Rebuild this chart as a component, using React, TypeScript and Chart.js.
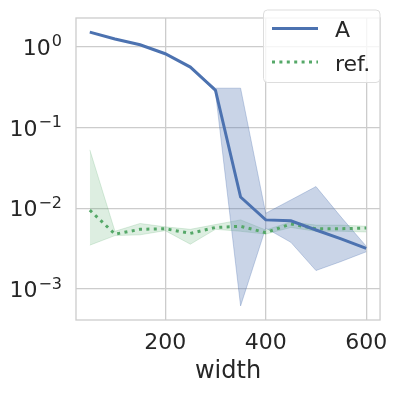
import React, { useEffect, useRef } from "react";
import { Chart, registerables } from "chart.js";

Chart.register(...registerables);

const xValues = [50, 100, 150, 200, 250, 300, 350, 400, 450, 500, 550, 600];
const aMean = [1.52, 1.25, 1.06, 0.82, 0.56, 0.29, 0.0138, 0.0072, 0.007, 0.0054, 0.0042, 0.0032];
const aUpper = [1.52, 1.25, 1.06, 0.82, 0.56, 0.307, 0.307, 0.0087, 0.0127, 0.0186, 0.0078, 0.0034];
const aLower = [1.52, 1.25, 1.06, 0.82, 0.56, 0.275, 0.00062, 0.0057, 0.0038, 0.0017, 0.0022, 0.0029];
const refMean = [0.0095, 0.0048, 0.0055, 0.0056, 0.0049, 0.0058, 0.006, 0.005, 0.0064, 0.0056, 0.0056, 0.0057];
const refUpper = [0.053, 0.0052, 0.0065, 0.0059, 0.0055, 0.0063, 0.0072, 0.0054, 0.0068, 0.0062, 0.0062, 0.006];
const refLower = [0.0035, 0.0046, 0.0047, 0.0053, 0.0036, 0.0055, 0.0052, 0.0048, 0.0058, 0.0052, 0.0052, 0.0051];
const xTicks = [200, 400, 600];
const yTicks = [0.001, 0.01, 0.1, 1];
const yTickExponents = ["\u22123", "\u22122", "\u22121", "0"];
const seriesLabels = ["A", "ref."];
const xTitle = "width";

const BLUE = "#4c72b0";
const GREEN = "#55a868";
const FONT = "'DejaVu Sans', sans-serif";
const TEXT = "#262626";
const GRID = "#cccccc";

const pts = (ys: number[]) => xValues.map((x, i) => ({ x, y: ys[i] }));

const framePlugin = {
  id: "frame",
  afterDatasetsDraw(chart: any) {
    const { ctx, chartArea: a } = chart;
    ctx.save();
    ctx.strokeStyle = GRID;
    ctx.lineWidth = 1.3;
    ctx.strokeRect(a.left, a.top, a.right - a.left, a.bottom - a.top);
    ctx.restore();
  },
  afterDraw(chart: any) {
    const { ctx } = chart;
    ctx.save();
    // y tick labels: 10 with superscript exponent
    const ys = chart.scales.y;
    const right = 62;
    yTicks.forEach((v, i) => {
      const py = ys.getPixelForValue(v);
      ctx.fillStyle = TEXT;
      ctx.textAlign = "right";
      ctx.textBaseline = "alphabetic";
      ctx.font = `16px ${FONT}`;
      const exp = yTickExponents[i];
      const ew = ctx.measureText(exp).width;
      ctx.fillText(exp, right, py - 0.3);
      ctx.font = `22px ${FONT}`;
      ctx.fillText("10", right - ew - 1, py + 8);
    });
    // legend box
    const bx = 263.5, by = 10, bw = 116.5, bh = 72.5, r = 4;
    ctx.beginPath();
    ctx.moveTo(bx + r, by);
    ctx.lineTo(bx + bw - r, by);
    ctx.quadraticCurveTo(bx + bw, by, bx + bw, by + r);
    ctx.lineTo(bx + bw, by + bh - r);
    ctx.quadraticCurveTo(bx + bw, by + bh, bx + bw - r, by + bh);
    ctx.lineTo(bx + r, by + bh);
    ctx.quadraticCurveTo(bx, by + bh, bx, by + bh - r);
    ctx.lineTo(bx, by + r);
    ctx.quadraticCurveTo(bx, by, bx + r, by);
    ctx.closePath();
    ctx.fillStyle = "rgba(255,255,255,0.8)";
    ctx.fill();
    ctx.strokeStyle = "#dddddd";
    ctx.lineWidth = 1;
    ctx.stroke();
    // entries
    const entries = [
      { label: seriesLabels[0], color: BLUE, dash: [] as number[], y: 28.5, base: 36.5 },
      { label: seriesLabels[1], color: GREEN, dash: [3, 4.4], y: 62, base: 70.5 },
    ];
    entries.forEach((e) => {
      ctx.beginPath();
      ctx.setLineDash(e.dash);
      ctx.strokeStyle = e.color;
      ctx.lineWidth = 3;
      ctx.moveTo(272, e.y);
      ctx.lineTo(318, e.y);
      ctx.stroke();
      ctx.setLineDash([]);
      ctx.fillStyle = TEXT;
      ctx.font = `22px ${FONT}`;
      ctx.textBaseline = "alphabetic";
      ctx.textAlign = "left";
      ctx.fillText(e.label, 335, e.base);
    });
    ctx.restore();
  },
};

export default function App() {
  const ref = useRef<HTMLCanvasElement | null>(null);
  useEffect(() => {
    if (!ref.current) return;
    const band = (data: number[], color: string, fill: any, order: number) => ({
      label: "",
      data: pts(data),
      borderColor: color,
      backgroundColor: color,
      borderWidth: 1,
      pointRadius: 0,
      fill,
      order,
      tension: 0,
    });
    const chart = new Chart(ref.current, {
      type: "line",
      data: {
        datasets: [
          {
            label: seriesLabels[0],
            data: pts(aMean),
            borderColor: BLUE,
            borderWidth: 3,
            pointRadius: 0,
            fill: false,
            order: 0,
          },
          {
            label: seriesLabels[1],
            data: pts(refMean),
            borderColor: GREEN,
            borderWidth: 3,
            borderDash: [3, 4.4],
            pointRadius: 0,
            fill: false,
            order: 1,
          },
          band(aUpper, "rgba(76,114,176,0.3)", "+1", 3),
          band(aLower, "rgba(76,114,176,0.3)", false, 3),
          band(refUpper, "rgba(85,168,104,0.2)", "+1", 4),
          band(refLower, "rgba(85,168,104,0.2)", false, 4),
        ] as any,
      },
      options: {
        animation: false,
        responsive: false,
        layout: { padding: { left: 0, top: 18, right: 17, bottom: 0 } },
        plugins: { legend: { display: false }, tooltip: { enabled: false } },
        scales: {
          x: {
            type: "linear",
            min: 22.5,
            max: 627.5,
            afterBuildTicks: (s: any) => {
              s.ticks = xTicks.map((v) => ({ value: v }));
            },
            afterFit: (s: any) => {
              s.height = 75;
            },
            grid: { color: GRID, lineWidth: 1.3, drawTicks: false },
            border: { display: false },
            ticks: {
              color: TEXT,
              font: { family: FONT, size: 22 },
              padding: 10,
              maxRotation: 0,
              callback: (v: any) => String(v),
            },
            title: {
              display: true,
              text: xTitle,
              color: TEXT,
              font: { family: FONT, size: 24 },
              padding: { top: 0, bottom: 9 },
            },
          },
          y: {
            type: "logarithmic",
            min: 4.15e-4,
            max: 2.27,
            afterBuildTicks: (s: any) => {
              s.ticks = yTicks.map((v) => ({ value: v }));
            },
            afterFit: (s: any) => {
              s.width = 76;
            },
            grid: { color: GRID, lineWidth: 1.3, drawTicks: false },
            border: { display: false },
            ticks: { display: false },
          },
        },
      } as any,
      plugins: [framePlugin],
    });
    return () => chart.destroy();
  }, []);
  return (
    <div style={{ position: "fixed", left: 0, top: 0, width: 398, height: 395, background: "#fff" }}>
      <canvas ref={ref} width={398} height={395} />
    </div>
  );
}
